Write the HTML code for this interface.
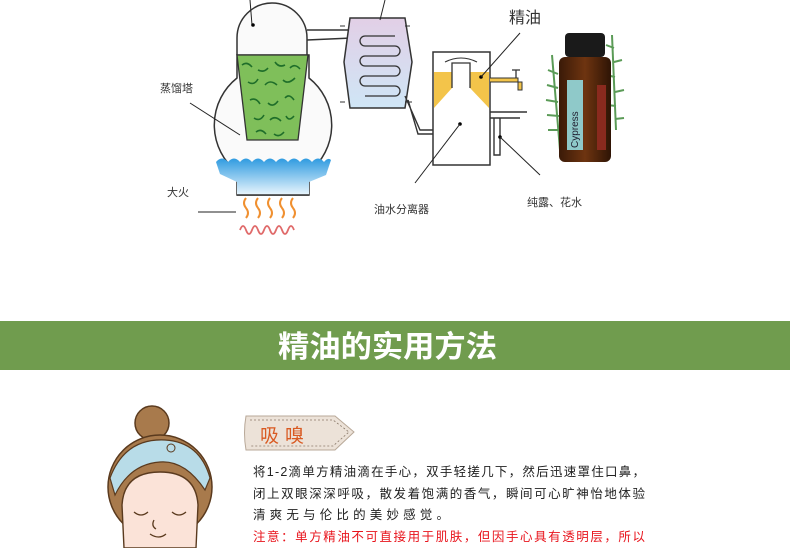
<!DOCTYPE html>
<html><head><meta charset="utf-8"><style>
html,body{margin:0;padding:0;background:#fff;}
svg{display:block;font-family:"Liberation Sans","Noto Sans CJK SC",sans-serif;}
</style></head><body>
<svg width="790" height="548" viewBox="0 0 790 548" xmlns="http://www.w3.org/2000/svg">
<defs>
<linearGradient id="water" x1="0" y1="0" x2="0" y2="1"><stop offset="0" stop-color="#2f9be0"/><stop offset="1" stop-color="#eaf6fd"/></linearGradient>
<linearGradient id="cond" x1="0" y1="0" x2="0" y2="1"><stop offset="0" stop-color="#e2cfe6"/><stop offset="1" stop-color="#cfe6f6"/></linearGradient>
<linearGradient id="bot" x1="0" y1="0" x2="1" y2="0"><stop offset="0" stop-color="#3a1a08"/><stop offset="0.5" stop-color="#6e3410"/><stop offset="1" stop-color="#2e1405"/></linearGradient>
</defs>
<!-- Still -->
<g fill="none" stroke="#333" stroke-width="1.5">
<path d="M237 55 L237 38 A35 35 0 0 1 307 38 L307 55" fill="#fafafa"/>
<path d="M237 55 L237 78 A60 60 0 0 0 237 172 L237 195 L309 195 L309 172 A60 60 0 0 0 309 78 L309 55 Z" fill="#fafafa"/>
</g>
<path d="M216 162 Q222 155 228 162 Q234 155 240 162 Q246 155 252 162 Q258 155 264 162 Q270 155 276 162 Q282 155 288 162 Q294 155 300 162 Q306 155 312 162 Q318 155 324 162 Q328 157 331 160 L326 175 L309 182 L309 195 L237 195 L237 182 L220 174 Z" fill="url(#water)"/>
<path d="M237 195 L309 195" stroke="#333" stroke-width="1.5"/>
<path d="M237 55 L308 55 L298 140 L247 140 Z" fill="#7fbf5a" stroke="#333" stroke-width="1.3"/>
<g stroke="#1f6e2a" stroke-width="1.6" fill="none">
<path d="M242 65 q5 -4 10 2 M258 70 q6 3 10 -2 M275 62 q4 6 10 3 M290 68 q5 -5 10 1 M248 82 q6 4 10 -3 M265 85 q5 -6 12 0 M283 80 q5 5 12 -2 M250 100 q6 -3 10 4 M268 103 q5 5 10 -2 M285 98 q4 -5 9 2 M254 118 q6 4 10 -3 M270 120 q5 -5 11 1 M286 116 q3 6 8 0 M256 132 q5 -4 10 2 M274 134 q5 4 10 -2"/>
</g>
<path d="M307 30 L355 30 M307 40 L352 38" stroke="#333" stroke-width="1.5" fill="none"/>
<line x1="250" y1="0" x2="252" y2="25" stroke="#222"/><circle cx="253" cy="25" r="1.8"/>
<!-- condenser -->
<path d="M350 18 L405 18 L412 62 L405 108 L350 108 L344 62 Z" fill="url(#cond)" stroke="#333" stroke-width="1.5"/>
<path d="M405 26 L410 26 M345 102 L340 102 M405 102 L412 102 M340 26 L345 26" stroke="#333"/>
<g fill="none" stroke="#333" stroke-width="1.3">
<path d="M395 36 L365 36 A5 5 0 0 0 365 46 L395 46 A5 5 0 0 1 395 56 L365 56 A5 5 0 0 0 365 66 L395 66 A5 5 0 0 1 395 76 L365 76 A5 5 0 0 0 365 86 L395 86 A5 5 0 0 1 395 96 L365 96"/>
</g>
<line x1="385" y1="0" x2="380" y2="20" stroke="#222"/>
<path d="M405 96 L420 130 L433 130 M408 100 L418 134 L433 134" stroke="#333" stroke-width="1.4" fill="none"/>
<!-- separator -->
<path d="M433 52 L490 52 L490 165 L433 165 Z" fill="#fff" stroke="#333" stroke-width="1.5"/>
<path d="M434 72 L452 72 L452 88 L434 108 Z" fill="#f3c44a"/>
<path d="M470 72 L489 72 L489 108 L470 88 Z" fill="#f3c44a"/>
<path d="M452 88 L452 63 L470 63 L470 88" fill="none" stroke="#333" stroke-width="1.3"/>
<path d="M445 62 q16 -8 32 0" fill="none" stroke="#333"/>
<path d="M490 78 L518 78 L518 90 L522 90 L522 82 L490 82" fill="#f3c44a" stroke="#333"/>
<path d="M512 70 L520 70 M516 70 L516 78" stroke="#333" stroke-width="1.3"/>
<path d="M490 112 L527 112 M490 118 L520 118 M494 118 L494 155 L500 155 L500 118" stroke="#333" stroke-width="1.4" fill="none"/>
<circle cx="460" cy="124" r="1.8"/><line x1="460" y1="124" x2="415" y2="183" stroke="#222"/>
<circle cx="481" cy="77" r="1.8"/><line x1="481" y1="77" x2="520" y2="33" stroke="#222"/>
<circle cx="500" cy="137" r="1.8"/><line x1="500" y1="137" x2="540" y2="175" stroke="#222"/>
<line x1="190" y1="103" x2="240" y2="135" stroke="#222"/>
<line x1="198" y1="212" x2="236" y2="212" stroke="#222"/>
<!-- fire -->
<g fill="none" stroke="#f09030" stroke-width="2">
<path d="M246 198 q-4 5 0 10 q4 5 0 10 M258 198 q-4 5 0 10 q4 5 0 10 M270 198 q-4 5 0 10 q4 5 0 10 M282 198 q-4 5 0 10 q4 5 0 10 M293 198 q-4 5 0 10 q4 5 0 10"/>
</g>
<path d="M240 230 q3 -8 6 0 q3 8 6 0 q3 -8 6 0 q3 8 6 0 q3 -8 6 0 q3 8 6 0 q3 -8 6 0 q3 8 6 0 q3 -8 6 0" fill="none" stroke="#e06b6b" stroke-width="1.8"/>
<!-- labels -->
<g fill="#333" font-size="11">
<text x="160" y="92">蒸馏塔</text>
<text x="167" y="196">大火</text>
<text x="374" y="213">油水分离器</text>
<text x="527" y="206">纯露、花水</text>
</g>
<text x="509" y="23" font-size="16" fill="#333">精油</text>
<!-- bottle -->
<g stroke="#3f8a3a" stroke-width="2" opacity="0.85">
<path d="M552 55 L560 150 M548 70 l10 4 M547 85 l11 3 M546 100 l12 2 M547 115 l12 1 M548 130 l11 0"/>
<path d="M612 35 L616 130 M606 45 l8 3 M622 60 l-8 2 M606 75 l9 2 M624 90 l-9 2 M607 105 l9 1 M624 118 l-9 1"/>
</g>
<rect x="565" y="33" width="40" height="24" rx="4" fill="#1a1a1a"/>
<rect x="559" y="57" width="52" height="105" rx="6" fill="url(#bot)"/>
<rect x="567" y="80" width="16" height="70" fill="#8fc9c9"/>
<text transform="translate(578,148) rotate(-90)" font-size="10" fill="#223">Cypress</text>
<rect x="597" y="85" width="9" height="65" fill="#8a2a1e"/>
<!-- green bar -->
<rect x="0" y="321" width="790" height="49" fill="#709c4e"/>
<text x="278" y="357" font-size="30" font-weight="bold" fill="#fff" textLength="219" lengthAdjust="spacingAndGlyphs">精油的实用方法</text>
<!-- face -->
<circle cx="152" cy="423" r="17" fill="#a87a4c" stroke="#5a3a1e" stroke-width="1.5"/>
<circle cx="160" cy="487" r="52" fill="#a87a4c" stroke="#5a3a1e" stroke-width="1.5"/>
<path d="M110 478 Q125 438 165 440 Q200 442 210 478 L205 490 Q185 460 160 462 Q130 464 115 495 Z" fill="#b8dce8" stroke="#5a3a1e" stroke-width="1.2"/>
<circle cx="171" cy="448" r="4" fill="none" stroke="#5a3a1e"/>
<path d="M122 505 Q124 472 160 472 Q196 472 198 505 L196 548 L124 548 Z" fill="#fbe3d8" stroke="#5a3a1e" stroke-width="1.4"/>
<path d="M134 512 q7 6 14 0 M172 512 q7 6 14 0 M154 520 q-3 6 2 9 M150 534 q9 6 16 0" fill="none" stroke="#5a3a1e" stroke-width="1.3"/>
<!-- tag -->
<path d="M246 416 L335 416 L354 432 L335 450 L246 450 Q243 433 246 416 Z" fill="#ece2d8" stroke="#b8a898"/>
<path d="M250 420 L333 420 L349 432 L333 446 L250 446" fill="none" stroke="#8a7a6a" stroke-dasharray="2 2" stroke-width="0.8"/>
<text x="260" y="442" font-size="19" fill="#d95a22" letter-spacing="6">吸嗅</text>
<!-- paragraph -->
<g font-size="12.5" fill="#222">
<text x="253" y="476" textLength="392" lengthAdjust="spacing">将1-2滴单方精油滴在手心，双手轻搓几下，然后迅速罩住口鼻，</text>
<text x="253" y="498" textLength="392" lengthAdjust="spacing">闭上双眼深深呼吸，散发着饱满的香气，瞬间可心旷神怡地体验</text>
<text x="253" y="519" textLength="196" lengthAdjust="spacing">清爽无与伦比的美妙感觉。</text>
<text x="253" y="541" fill="#e8141c" textLength="392" lengthAdjust="spacing">注意：单方精油不可直接用于肌肤，但因手心具有透明层，所以</text>
</g>
</svg>
</body></html>
